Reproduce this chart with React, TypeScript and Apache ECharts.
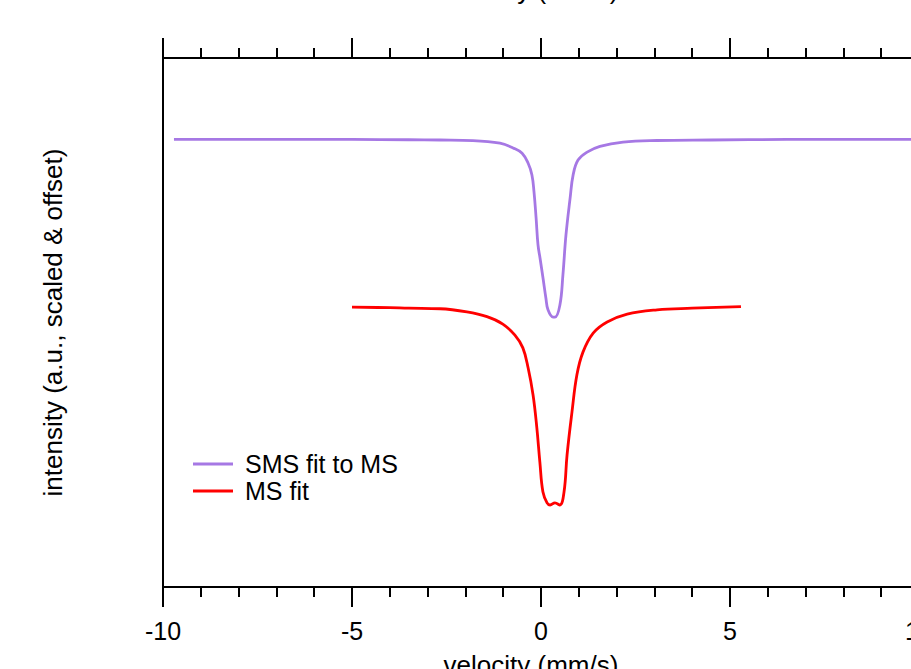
import React, { useEffect, useRef } from "react";
import * as echarts from "echarts";

// SMS fit to MS (purple)
const smsVelocity = [-9.71, -7.0, -5.0, -3.5, -2.67, -1.8, -1.085, -0.74, -0.5, -0.34, -0.24, -0.185, -0.13, -0.08, -0.026, 0.053, 0.13, 0.185, 0.32, 0.37, 0.5, 0.58, 0.66, 0.77, 0.85, 0.98, 1.22, 1.56, 2.17, 3.07, 4.5, 6.5, 8.5, 10.0];
const smsIntensity = [8.46, 8.46, 8.46, 8.455, 8.45, 8.44, 8.39, 8.3, 8.2, 8.01, 7.79, 7.47, 6.98, 6.47, 6.22, 5.84, 5.46, 5.24, 5.1, 5.1, 5.33, 5.9, 6.65, 7.35, 7.79, 8.07, 8.22, 8.33, 8.41, 8.44, 8.45, 8.46, 8.46, 8.46];

// MS fit (red)
const msVelocity = [-5.0, -4.0, -3.5, -2.67, -1.96, -1.43, -1.01, -0.69, -0.48, -0.34, -0.21, -0.11, -0.03, 0.05, 0.16, 0.24, 0.37, 0.5, 0.61, 0.69, 0.82, 0.95, 1.11, 1.38, 1.75, 2.28, 3.07, 4.0, 5.29];
const msIntensity = [5.29, 5.28, 5.27, 5.26, 5.2, 5.11, 4.97, 4.76, 4.52, 4.14, 3.63, 3.01, 2.36, 1.8, 1.59, 1.55, 1.59, 1.55, 1.8, 2.5, 3.31, 4.01, 4.44, 4.8, 5.01, 5.16, 5.24, 5.27, 5.3];

const xTicks = [-10, -5, 0, 5, 10];
const seriesNames = ["SMS fit to MS", "MS fit"];
const xTitle = "velocity (mm/s)";
const yTitle = "intensity (a.u., scaled & offset)";

const FONT = "'Liberation Sans', Arial, Helvetica, sans-serif";
const PURPLE = "#a678e4";
const RED = "#ff0000";

export default function App() {
  const ref = useRef<HTMLDivElement>(null);
  useEffect(() => {
    if (!ref.current) return;
    const chart = echarts.init(ref.current, undefined, { renderer: "svg" });
    const axisCommon = {
      type: "value" as const,
      min: xTicks[0],
      max: xTicks[xTicks.length - 1],
      interval: 5,
      splitLine: { show: false },
      axisLine: { show: true, onZero: false, lineStyle: { color: "#000", width: 2 } },
      axisTick: { show: true, inside: false, length: 20, lineStyle: { color: "#000", width: 2 } },
      minorTick: { show: true, splitNumber: 5, length: 10, lineStyle: { color: "#000", width: 2 } },
      minorSplitLine: { show: false },
    };
    chart.setOption({
      animation: false,
      backgroundColor: "#fff",
      textStyle: { fontFamily: FONT },
      grid: { left: 163, top: 98, width: 756, height: 529 },
      legend: {
        orient: "vertical",
        left: 193,
        top: 491,
        padding: 0,
        icon: "rect",
        itemWidth: 40,
        itemHeight: 3,
        itemGap: 1,
        data: seriesNames,
        textStyle: { fontSize: 25, lineHeight: 26, color: "#000", fontFamily: FONT, padding: [0, 0, 0, 7] },
      },
      xAxis: [
        {
          ...axisCommon,
          position: "bottom",
          axisLabel: { show: true, fontSize: 25, color: "#000", margin: 31, fontFamily: FONT },
          name: xTitle,
          nameLocation: "middle",
          nameGap: 65,
          nameTextStyle: { fontSize: 26, color: "#000", fontFamily: FONT, padding: [0, 20, 0, 0] },
        },
        {
          ...axisCommon,
          position: "top",
          axisLabel: { show: false },
          name: xTitle,
          nameLocation: "middle",
          nameGap: 55,
          nameTextStyle: { fontSize: 26, color: "#000", fontFamily: FONT, padding: [0, 20, 0, 0] },
        },
      ],
      yAxis: {
        type: "value",
        min: 0,
        max: 10,
        splitLine: { show: false },
        axisLine: { show: true, onZero: false, lineStyle: { color: "#000", width: 2 } },
        axisTick: { show: false },
        axisLabel: { show: false },
        name: yTitle,
        nameLocation: "middle",
        nameRotate: 90,
        nameGap: 97,
        nameTextStyle: { fontSize: 26, color: "#000", fontFamily: FONT },
      },
      series: [
        {
          name: seriesNames[0],
          type: "line",
          xAxisIndex: 0,
          data: smsVelocity.map((v, i) => [v, smsIntensity[i]]),
          showSymbol: false,
          symbol: "none",
          smooth: 0.4,
          lineStyle: { color: PURPLE, width: 2.8 },
          itemStyle: { color: PURPLE },
        },
        {
          name: seriesNames[1],
          type: "line",
          xAxisIndex: 0,
          data: msVelocity.map((v, i) => [v, msIntensity[i]]),
          showSymbol: false,
          symbol: "none",
          smooth: 0.4,
          lineStyle: { color: RED, width: 2.8 },
          itemStyle: { color: RED },
        },
      ],
    });
    return () => chart.dispose();
  }, []);
  return (
    <div style={{ position: "fixed", left: 0, top: 0, width: 911, height: 669, overflow: "hidden", background: "#fff" }}>
      <div ref={ref} style={{ position: "absolute", left: 0, top: -40, width: 1000, height: 760 }} />
    </div>
  );
}
